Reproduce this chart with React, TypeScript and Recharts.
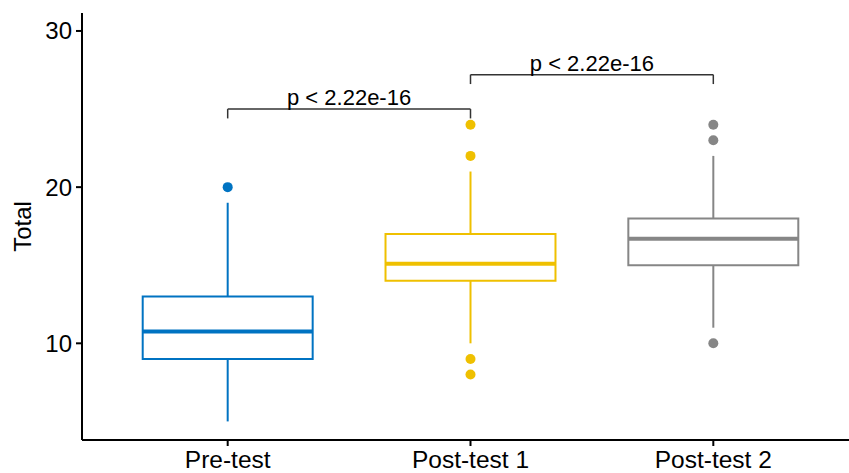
import {
  ComposedChart,
  ReferenceArea,
  ReferenceLine,
  Scatter,
  XAxis,
  YAxis,
} from 'recharts';

const groups = ['Pre-test', 'Post-test 1', 'Post-test 2'];
const colors = ['#0073C2', '#EFC000', '#868686'];

const lowerWhisker = [5, 10, 11];
const q1 = [9, 14, 15];
const medians = [10.75, 15.1, 16.7];
const q3 = [13, 17, 18];
const upperWhisker = [19, 21, 22];
const outliers = [[20], [24, 22, 9, 8], [24, 23, 10]];

const comparisons = [
  { from: 1, to: 2, y: 25, label: 'p < 2.22e-16' },
  { from: 2, to: 3, y: 27.2, label: 'p < 2.22e-16' },
];

const yTicks = [10, 20, 30];
const halfBox = 0.35;
const tipDrop = 0.6;
const font = '"Liberation Sans", Arial, Helvetica, sans-serif';

function YTitle({ viewBox }: { viewBox?: { x: number; y: number; width: number; height: number } }) {
  if (!viewBox) return null;
  const x = viewBox.x + 22;
  const y = viewBox.y + viewBox.height / 2;
  return (
    <text
      x={x}
      y={y}
      transform={`rotate(-90 ${x} ${y})`}
      textAnchor="middle"
      dominantBaseline="central"
      fontSize={24}
      fontFamily={font}
      fill="#000"
    >
      Total
    </text>
  );
}

export default function App() {
  return (
    <div
      style={{
        position: 'absolute',
        left: 0,
        top: 0,
        width: 849,
        height: 473,
        overflow: 'hidden',
        background: '#fff',
      }}
    >
      <ComposedChart width={870} height={473} margin={{ top: 13, right: 11, bottom: 0, left: 0 }}>
        <XAxis
          type="number"
          dataKey="x"
          domain={[0.4, 3.6]}
          ticks={[1, 2, 3]}
          allowDataOverflow
          tickFormatter={(v: number) => groups[v - 1] ?? ''}
          height={33}
          tickSize={6}
          tickMargin={5}
          stroke="#000"
          strokeWidth={2}
          tick={{ fontSize: 24.5, fill: '#000', fontFamily: font }}
        />
        <YAxis
          type="number"
          dataKey="y"
          domain={[3.81, 31.15]}
          ticks={yTicks}
          allowDataOverflow
          width={82}
          tickSize={6}
          tickMargin={4}
          stroke="#000"
          strokeWidth={2}
          tick={{ fontSize: 24, fill: '#000', fontFamily: font }}
          label={{ content: <YTitle /> }}
        />

        {groups.map((g, i) => {
          const x = i + 1;
          return [
            <ReferenceLine
              key={`wl-${g}`}
              segment={[{ x, y: lowerWhisker[i] }, { x, y: q1[i] }]}
              stroke={colors[i]}
              strokeWidth={2}
              ifOverflow="visible"
            />,
            <ReferenceLine
              key={`wu-${g}`}
              segment={[{ x, y: q3[i] }, { x, y: upperWhisker[i] }]}
              stroke={colors[i]}
              strokeWidth={2}
              ifOverflow="visible"
            />,
            <ReferenceArea
              key={`box-${g}`}
              x1={x - halfBox}
              x2={x + halfBox}
              y1={q1[i]}
              y2={q3[i]}
              fill="#fff"
              fillOpacity={1}
              stroke={colors[i]}
              strokeWidth={2}
              ifOverflow="visible"
            />,
            <ReferenceLine
              key={`med-${g}`}
              segment={[{ x: x - halfBox, y: medians[i] }, { x: x + halfBox, y: medians[i] }]}
              stroke={colors[i]}
              strokeWidth={4}
              ifOverflow="visible"
            />,
          ];
        })}

        {groups.map((g, i) => (
          <Scatter
            key={`out-${g}`}
            data={outliers[i].map((y) => ({ x: i + 1, y }))}
            dataKey="y"
            isAnimationActive={false}
            shape={(p: any) => <circle cx={p.cx} cy={p.cy} r={5} fill={colors[i]} />}
          />
        ))}

        {comparisons.map((c, k) => [
          <ReferenceLine
            key={`br-${k}`}
            segment={[{ x: c.from, y: c.y }, { x: c.to, y: c.y }]}
            stroke="#333"
            strokeWidth={1.5}
            ifOverflow="visible"
            label={{
              value: c.label,
              position: 'top',
              offset: 4,
              fontSize: 22,
              fill: '#000',
              fontFamily: font,
            }}
          />,
          <ReferenceLine
            key={`tl-${k}`}
            segment={[{ x: c.from, y: c.y }, { x: c.from, y: c.y - tipDrop }]}
            stroke="#333"
            strokeWidth={1.5}
            ifOverflow="visible"
          />,
          <ReferenceLine
            key={`tr-${k}`}
            segment={[{ x: c.to, y: c.y }, { x: c.to, y: c.y - tipDrop }]}
            stroke="#333"
            strokeWidth={1.5}
            ifOverflow="visible"
          />,
        ])}
      </ComposedChart>
    </div>
  );
}
